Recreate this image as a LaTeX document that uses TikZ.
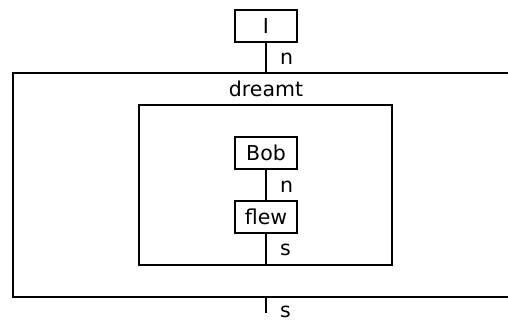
\documentclass[tikz,border=0pt]{standalone}
\usepackage{fontspec}
\setmainfont{DejaVu Sans}

\tikzset{
  word/.style={draw,line width=1.2pt,minimum width=62pt,minimum height=32pt,inner sep=0pt,font=\fontsize{20.5}{24}\selectfont},
  tag/.style={font=\fontsize{20.5}{24}\selectfont,anchor=west,inner sep=2pt},
  wire/.style={line width=1.2pt}
}

\begin{document}
\begin{tikzpicture}[x=1pt,y=-1pt]
            \useasboundingbox (0,0) rectangle (508,321);
            \clip (0,0) rectangle (508,321);

            \draw[wire] (13,73) rectangle (530,297);
            \draw[wire] (139,105) rectangle (392,265);
            \node[font=\fontsize{20.5}{24}\selectfont] (dreamt) at (266,89) {dreamt};

            \node[word] (nI) at (266,26) {I};
            \node[word] (nBob) at (266,153) {Bob};
            \node[word] (nFlew) at (266,217) {flew};

            \coordinate (topOuter) at (266,73);
            \coordinate (botInner) at (266,265);
            \coordinate (botOuter) at (266,297);
            \coordinate (endS) at (266,313);

            \draw[wire] (nI) -- (topOuter);
            \draw[wire] (nBob) -- (nFlew);
            \draw[wire] (nFlew) -- (botInner);
            \draw[wire] (botOuter) -- (endS);

            \node[tag] (tagA) at (278,59) {n};
            \node[tag] (tagB) at (278,187) {n};
            \node[tag] (tagC) at (278,249.5) {s};
            \node[tag] (tagD) at (278,312) {s};
        \end{tikzpicture}
\end{document}
